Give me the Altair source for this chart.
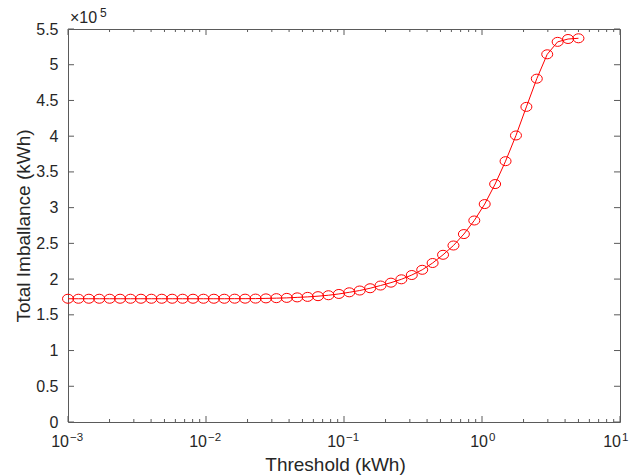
import altair as alt
import pandas as pd

# Threshold sweep (kWh), log-spaced from 1e-3 to 5
threshold_kwh = [
    0.0010000, 0.0011899, 0.0014157, 0.0016845, 0.0020043, 0.0023848, 0.0028376,
    0.0033763, 0.0040173, 0.0047800, 0.0056875, 0.0067673, 0.0080520, 0.0095807,
    0.011400, 0.013564, 0.016139, 0.019203, 0.022849, 0.027186, 0.032348,
    0.038489, 0.045796, 0.054490, 0.064834, 0.077143, 0.091788, 0.10921,
    0.12995, 0.15462, 0.18397, 0.21890, 0.26046, 0.30991, 0.36874,
    0.43874, 0.52204, 0.62115, 0.73907, 0.87938, 1.0463, 1.2450,
    1.4813, 1.7626, 2.0972, 2.4953, 2.9690, 3.5326, 4.2033, 5.0000,
]

# Total imbalance (kWh) at each threshold
imbalance_kwh = [
    172500, 172500, 172500, 172500, 172500, 172500, 172500,
    172500, 172500, 172500, 172500, 172500, 172500, 172500,
    172500, 172500, 172600, 172600, 172700, 173000, 173300,
    173700, 174400, 175100, 176100, 177400, 179200, 181500,
    184000, 187200, 191000, 195000, 199700, 205700, 213000,
    222500, 234000, 247000, 263000, 282000, 305000, 333000,
    365000, 401000, 441000, 480500, 514600, 532000, 536000, 537000,
]

y_tick_values = [0, 50000, 100000, 150000, 200000, 250000, 300000,
                 350000, 400000, 450000, 500000, 550000]
decades = [0.001, 0.01, 0.1, 1, 10]
decade_exponents = ["\u22123", "\u22122", "\u22121", "0", "1"]
minor_multipliers = [2, 3, 4, 5, 6, 7, 8, 9]

W, H = 552, 393
FONT = "Liberation Sans"
TEXT = "#262626"
AXIS = "#5a5a5a"
RED = "#ff0000"

series = pd.DataFrame({"threshold": threshold_kwh, "imbalance": imbalance_kwh})
minor_ticks = pd.DataFrame({"t": [m * d for d in decades[:-1] for m in minor_multipliers]})
major_ticks = pd.DataFrame({"t": decades})
y_ticks = pd.DataFrame({"v": y_tick_values})
decade_labels = pd.DataFrame({"t": decades, "exp": decade_exponents})
single = pd.DataFrame({"k": [0]})

x_scale = alt.Scale(type="log", domain=[0.001, 10])
y_scale = alt.Scale(domain=[0, 550000])

# One shared axis definition per direction, used by every layer
x_axis = alt.Axis(labels=False, ticks=False, domain=False, grid=False,
                  title="Threshold (kWh)", titleFont=FONT, titleFontSize=19,
                  titleFontWeight="normal", titleColor=TEXT, titlePadding=33,
                  titleX=267)
y_axis = alt.Axis(values=y_tick_values, labelExpr="datum.value / 100000",
                  labelOverlap=False, ticks=False, domain=False, grid=False,
                  labelPadding=10, labelFont=FONT, labelFontSize=16, labelColor=TEXT,
                  title="Total Imballance (kWh)", titleFont=FONT, titleFontSize=19,
                  titleFontWeight="normal", titleColor=TEXT, titlePadding=2)


def xq(field):
    return alt.X(f"{field}:Q", scale=x_scale, axis=x_axis)


def yq(field):
    return alt.Y(f"{field}:Q", scale=y_scale, axis=y_axis)


line = alt.Chart(series).mark_line(color=RED, strokeWidth=1).encode(
    x=xq("threshold"), y=yq("imbalance"))

ellipse = "M-1,0A1,0.82,0,1,1,1,0A1,0.82,0,1,1,-1,0Z"
markers = alt.Chart(series).mark_point(
    shape=ellipse, size=121, filled=False, stroke=RED, strokeWidth=1, opacity=1
).encode(x=xq("threshold"), y=yq("imbalance"))


def x_ticks(df, y0, y1):
    return alt.Chart(df).mark_rule(color=AXIS, strokeWidth=1).encode(
        x=xq("t"), y=alt.value(y0), y2=alt.value(y1))


def y_ticks_at(x0, x1):
    return alt.Chart(y_ticks).mark_rule(color=AXIS, strokeWidth=1).encode(
        y=yq("v"), x=alt.value(x0), x2=alt.value(x1))


ticks = [
    x_ticks(major_ticks, H, H - 6), x_ticks(major_ticks, 0, 6),
    x_ticks(minor_ticks, H, H - 3), x_ticks(minor_ticks, 0, 3),
    y_ticks_at(0, 6), y_ticks_at(W, W - 6),
]


def decade_text(values, shift):
    sub = decade_labels[decade_labels["t"].isin(values)]
    base = alt.Chart(sub).mark_text(
        font=FONT, fontSize=16, color=TEXT, align="right", baseline="alphabetic", dx=shift
    ).encode(x=xq("t"), y=alt.value(H + 25), text=alt.value("10"))
    sup = alt.Chart(sub).mark_text(
        font=FONT, fontSize=11.5, color=TEXT, align="left", baseline="alphabetic", dx=shift + 1
    ).encode(x=xq("t"), y=alt.value(H + 19), text="exp:N")
    return [base, sup]


labels = decade_text([0.001, 0.01, 0.1, 10], 1) + decade_text([1], 6)

multiplier = [
    alt.Chart(single).mark_text(font=FONT, fontSize=16, color=TEXT, align="left",
                                baseline="alphabetic").encode(
        x=alt.value(2), y=alt.value(-6), text=alt.value("\u00d710")),
    alt.Chart(single).mark_text(font=FONT, fontSize=12, color=TEXT, align="left",
                                baseline="alphabetic").encode(
        x=alt.value(32), y=alt.value(-12), text=alt.value("5")),
]

chart = alt.layer(line, markers, *ticks, *labels, *multiplier).properties(
    width=W, height=H,
    autosize=alt.AutoSizeParams(type="none"),
    padding={"left": 68, "top": 29, "right": 15, "bottom": 53},
    background="white",
).configure_view(stroke=AXIS, strokeWidth=1)

chart.save("out.html", embed_options={"renderer": "svg", "actions": False})
